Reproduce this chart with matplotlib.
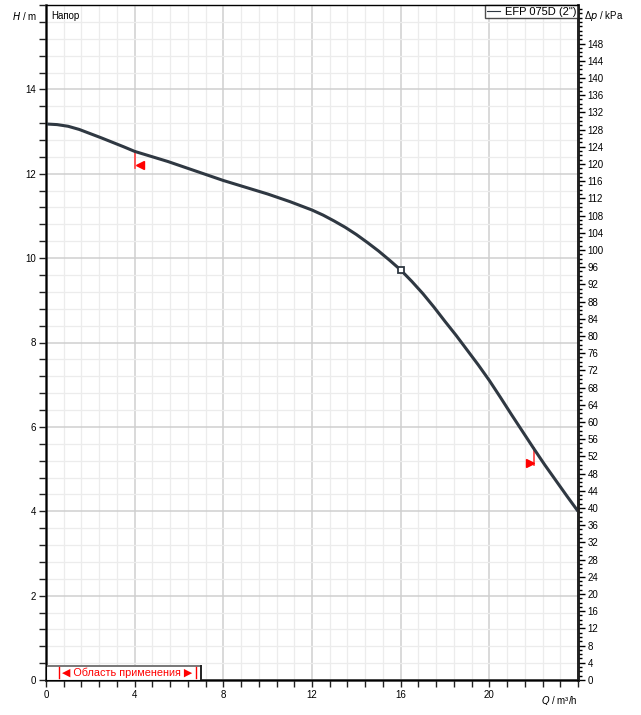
import numpy as np
import matplotlib.pyplot as plt
from matplotlib.ticker import MultipleLocator, FixedLocator
from matplotlib.patches import Rectangle

plt.rcParams["font.family"] = ["Liberation Sans", "DejaVu Sans"]
plt.rcParams["font.size"] = 7

# pump curve EFP 075D (2"), read every 0.5 m3/h
q = [0, 0.5, 1, 1.5, 2, 2.5, 3, 3.5, 4, 4.5, 5, 5.5, 6, 6.5, 7, 7.5, 8,
     8.5, 9, 9.5, 10, 10.5, 11, 11.5, 12, 12.5, 13, 13.5, 14, 14.5, 15, 15.5, 16,
     16.5, 17, 17.5, 18, 18.5, 19, 19.5, 20, 20.5, 21, 21.5, 22, 22.5, 23, 23.5, 24]
h = [13.18, 13.165, 13.125, 13.05, 12.95, 12.85, 12.745, 12.64, 12.53, 12.45, 12.37, 12.29, 12.2,
     12.11, 12.02, 11.93, 11.84, 11.76, 11.68, 11.6, 11.52, 11.43, 11.34, 11.24, 11.14,
     11.02, 10.88, 10.73, 10.56, 10.37, 10.17, 9.95, 9.72, 9.45, 9.16, 8.84, 8.5,
     8.17, 7.82, 7.47, 7.1, 6.7, 6.29, 5.89, 5.49, 5.1, 4.73, 4.36, 4.0]

duty_q, duty_h = 16, 9.72
range_q = [4, 22]
range_h = [12.53, 5.49]
range_low = [12.13, 5.09]
range_tri_q = [4.23, 21.83]
range_tri_h = [12.2, 5.14]

xticks = [0, 4, 8, 12, 16, 20]
yticks = [0, 2, 4, 6, 8, 10, 12, 14]
kpa_ticks = list(range(0, 149, 4))

curve_color = "#2f3842"

fig = plt.figure(figsize=(6.41, 7.15), dpi=100)
ax = fig.add_axes([46 / 641, 35 / 715, 532 / 641, 675 / 715])

ax.set_xlim(0, 24)
ax.set_ylim(0, 16)

# grid
ax.xaxis.set_major_locator(FixedLocator(xticks))
ax.xaxis.set_minor_locator(MultipleLocator(0.8))
ax.yaxis.set_major_locator(FixedLocator(yticks))
ax.yaxis.set_minor_locator(MultipleLocator(0.4))
ax.grid(which="minor", color="#ececec", linewidth=0.9)
ax.grid(which="major", color="#cfcfcf", linewidth=1.1)
ax.axhline(16, color="#cfcfcf", linewidth=1.1, zorder=0)
ax.set_axisbelow(True)

ax.tick_params(which="both", direction="out", length=5, width=1, color="#222222",
               labelsize=7, pad=2)

for s in ["left", "bottom"]:
    ax.spines[s].set_linewidth(1.8)
    ax.spines[s].set_color("#222222")
ax.spines["top"].set_color("#444444")
ax.spines["top"].set_linewidth(1.0)
ax.spines["right"].set_linewidth(1.8)

ax.plot(q, h, color=curve_color, linewidth=2.2, solid_joinstyle="round",
        solid_capstyle="butt", zorder=5)
ax.plot([duty_q], [duty_h], marker="s", markersize=4.5, markerfacecolor="white",
        markeredgecolor=curve_color, markeredgewidth=1.3, zorder=6)

# working range markers
for i in range(2):
    ax.plot([range_q[i], range_q[i]], [range_low[i], range_h[i]], color="#ff4d4d",
            linewidth=1.3, zorder=4)
ax.plot([range_tri_q[0]], [range_tri_h[0]], marker="<", color="red", markersize=6,
        linestyle="none", zorder=4)
ax.plot([range_tri_q[1]], [range_tri_h[1]], marker=">", color="red", markersize=6,
        linestyle="none", zorder=4)

# axis labels
ax.text(-0.4, 15.75, "$\\it{H}$ / m", ha="right", va="center", fontsize=7)
ax.text(24, -0.33, "$\\it{Q}$ / m³/h", ha="right", va="top", fontsize=7)
ax.text(0.25, 15.85, "Напор", ha="left", va="top", fontsize=7)

# legend
leg = ax.legend([plt.Line2D([0], [0], color=curve_color, linewidth=0.8)], ['EFP 075D (2")'],
                loc="upper right", bbox_to_anchor=(1.0, 1.0), fontsize=8, frameon=True,
                fancybox=False, handlelength=1.2, handletextpad=0.4, borderpad=0.15,
                borderaxespad=0.0)
leg.get_frame().set_edgecolor("#222222")
leg.get_frame().set_linewidth(1.0)

# application range box
ax.add_patch(Rectangle((0, 0), 7.0, 0.33, facecolor="white", edgecolor="none", zorder=6))
ax.plot([0, 7.0], [0.33, 0.33], color="#777777", linewidth=1.4, zorder=7, clip_on=False)
ax.plot([7.0, 7.0], [0, 0.33], color="#222222", linewidth=1.4, zorder=7)
for bx in [0.58, 6.75]:
    ax.plot([bx, bx], [0.04, 0.3], color="red", linewidth=1.0, zorder=8)
ax.text(3.66, 0.165, "◀ Область применения ▶", color="red", ha="center", va="center",
        fontsize=7.8, zorder=8, family=["Liberation Sans", "DejaVu Sans"])

# right pressure axis
ax2 = ax.twinx()
ax2.set_ylim(0, 16 * 9.81)
ax2.yaxis.set_major_locator(FixedLocator(kpa_ticks))
ax2.yaxis.set_minor_locator(MultipleLocator(1))
ax2.tick_params(which="major", direction="out", length=5, width=1, labelsize=7, pad=2)
ax2.tick_params(which="minor", direction="out", length=3, width=1)
ax2.spines["right"].set_linewidth(1.8)
ax2.spines["right"].set_color("#222222")
ax2.text(1.012, 15.75 / 16, "Δ$\\it{p}$ / kPa", transform=ax.transAxes, ha="left",
         va="center", fontsize=7)

fig.savefig("out.png", dpi=100)
plt.close()
